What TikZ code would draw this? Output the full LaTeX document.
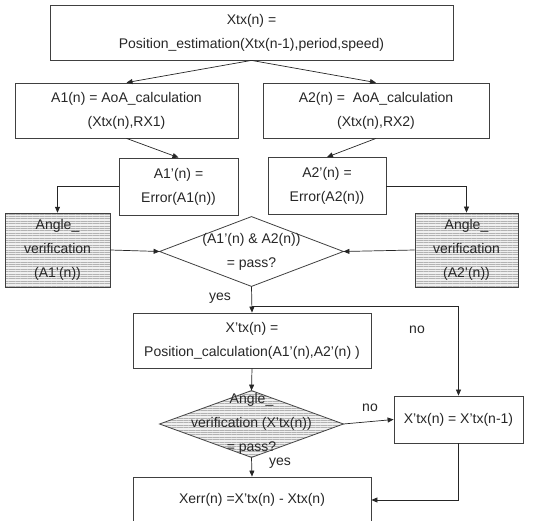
\documentclass[tikz,border=0pt]{standalone}
\usepackage{fontspec}
\setmainfont{Liberation Sans}
\usetikzlibrary{arrows.meta,patterns.meta,backgrounds}
\tikzset{
  box/.style={draw=black!75, line width=0.8pt, align=center, inner sep=0pt,
    font=\fontsize{14}{24}\selectfont, text=black!85},
  hatched/.style={preaction={fill=gray!12},
    pattern={Lines[distance=2.4pt,line width=0.45pt]}, pattern color=gray!60},
  outline/.style={draw=black!75, line width=0.8pt},
  arr/.style={-{Triangle[length=6pt,width=5pt]}, draw=black!85, line width=0.7pt},
  lbl/.style={font=\fontsize{14}{16}\selectfont, text=black!85}
}
\begin{document}
\begin{tikzpicture}[x=1pt,y=-1pt]
  \useasboundingbox (0,0) rectangle (554,521);
  % boxes
  \node[box, minimum width=403pt, minimum height=55pt] (est) at (251.5,32.5)
    {Xtx(n) =\\Position\_estimation(Xtx(n-1),period,speed)};
  \node[box, minimum width=223pt, minimum height=55pt] (aoa1) at (126.5,110.5)
    {A1(n) = AoA\_calculation\\(Xtx(n),RX1)};
  \node[box, minimum width=226pt, minimum height=55pt] (aoa2) at (376,110.5)
    {A2(n) = \ AoA\_calculation\\(Xtx(n),RX2)};
  \node[box, minimum width=119pt, minimum height=57pt] (err1) at (178.5,186.5)
    {A1’(n) =\\Error(A1(n))};
  \node[box, minimum width=118pt, minimum height=57pt] (err2) at (327,186)
    {A2’(n) =\\Error(A2(n))};
  \node[box, hatched, minimum width=105pt, minimum height=74pt] (ver1) at (57.5,250)
    {Angle\_\\verification\\(A1’(n))};
  \node[box, hatched, minimum width=103pt, minimum height=74pt] (ver2) at (466.5,250)
    {Angle\_\\verification\\(A2’(n))};
  \node[box, draw=none, minimum width=183pt, minimum height=69pt] (dec1) at (251.5,251.5)
    {(A1’(n) \& A2(n))\\= pass?};
  \node[box, minimum width=238pt, minimum height=55pt] (pos) at (252,340.5)
    {X’tx(n) =\\Position\_calculation(A1’(n),A2’(n) )};
  \node[box, draw=none, minimum width=183pt, minimum height=66pt, yshift=-2pt] (dec2) at (251.5,422)
    {Angle\_\\verification (X’tx(n))\\= pass?};
  \node[box, minimum width=129pt, minimum height=47pt] (hold) at (458.5,419.5)
    {X’tx(n) = X’tx(n-1)};
  \node[box, minimum width=238pt, minimum height=46pt] (xerr) at (252,500)
    {Xerr(n) =X’tx(n) - Xtx(n)};
  % diamonds
  \begin{scope}[on background layer]
    \draw[outline] (dec1.north) -- (dec1.east) -- (dec1.south) -- (dec1.west) -- cycle;
    \draw[outline, hatched] (dec2.north) -- (dec2.east) -- (dec2.south) -- (dec2.west) -- cycle;
  \end{scope}
  % connectors
  \draw[arr] (est.south) -- (aoa1.north);
  \draw[arr] (est.south) -- (aoa2.north);
  \draw[arr] (aoa1.south) -- (err1.north);
  \draw[arr] (aoa2.south) -- (err2.north);
  \draw[arr] (err1.west) -| (ver1.north);
  \draw[arr] (err2.east) -| (ver2.north);
  \draw[arr] (ver1.east) -- (dec1.west);
  \draw[arr] (ver2.west) -- (dec1.east);
  \draw[arr] (dec1.south) -- (pos.north);
  \coordinate (split) at (252,306);
  \draw[arr] (split) -| (hold.north);
  \draw[arr] (pos.south) -- (dec2.north);
  \draw[arr] (dec2.east) -- (hold.west);
  \draw[arr] (dec2.south) -- (xerr.north);
  \draw[arr] (hold.south) |- (xerr.east);
  % labels
  \node[lbl] (yes1) at (220,298) {yes};
  \node[lbl] (no1) at (417,330) {no};
  \node[lbl] (no2) at (370,408) {no};
  \node[lbl] (yes2) at (280,463) {yes};
\end{tikzpicture}
\end{document}
